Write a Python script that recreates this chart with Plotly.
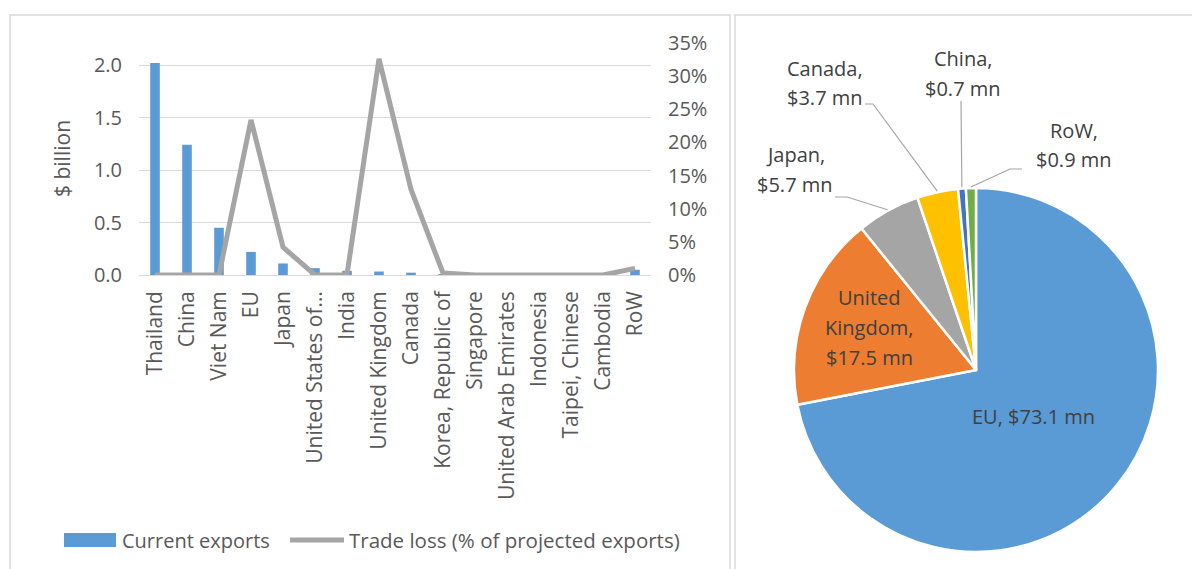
import math
import plotly.graph_objects as go

# ---------------- data ----------------
categories = ["Thailand", "China", "Viet Nam", "EU", "Japan", "United States of America",
              "India", "United Kingdom", "Canada", "Korea, Republic of", "Singapore",
              "United Arab Emirates", "Indonesia", "Taipei, Chinese", "Cambodia", "RoW"]
tick_labels = ["Thailand", "China", "Viet Nam", "EU", "Japan", "United States of…",
               "India", "United Kingdom", "Canada", "Korea, Republic of", "Singapore",
               "United Arab Emirates", "Indonesia", "Taipei, Chinese", "Cambodia", "RoW"]
current_exports = [2.02, 1.24, 0.45, 0.22, 0.11, 0.065, 0.04, 0.033, 0.022, 0.006,
                   0.003, 0.002, 0.002, 0.002, 0.001, 0.05]
trade_loss = [0.0, 0.0, 0.0, 0.234, 0.042, 0.0, 0.0005, 0.326, 0.129, 0.003,
              0.0, 0.0, 0.0, 0.001, 0.0, 0.010]
bar_name = "Current exports"
line_name = "Trade loss (% of projected exports)"

pie_labels = ["EU", "United Kingdom", "Japan", "Canada", "China", "RoW"]
pie_values = [73.1, 17.5, 5.7, 3.7, 0.7, 0.9]
pie_colors = ["#5B9BD5", "#ED7D31", "#A5A5A5", "#FFC000", "#4472C4", "#70AD47"]

# ---------------- geometry helpers ----------------
W, H = 1192, 569
def px(x):
    return x / W
def py(y):
    return 1 - y / H

FONT = "Open Sans"
TXT = "#595959"
PIE_TXT = "#404040"
GRID = "#D9D9D9"

fig = go.Figure()

fig.add_trace(go.Bar(x=categories, y=current_exports, name=bar_name,
                     marker=dict(color="#5B9BD5", line=dict(width=0)),
                     width=0.3, yaxis="y", xaxis="x", showlegend=False))
fig.add_trace(go.Scatter(x=categories, y=trade_loss, name=line_name, mode="lines",
                         line=dict(color="#A5A5A5", width=5), yaxis="y2", xaxis="x",
                         showlegend=False))

# pie
pcx, pcy, pr = 976, 370, 182
fig.add_trace(go.Pie(labels=pie_labels, values=pie_values, sort=False,
                     direction="clockwise", rotation=0,
                     marker=dict(colors=pie_colors, line=dict(color="white", width=2.5)),
                     textinfo="none", hoverinfo="label+value", showlegend=False,
                     domain=dict(x=[px(pcx - pr), px(pcx + pr)], y=[py(pcy + pr), py(pcy - pr)])))

# ---------------- layout ----------------
plot_l, plot_r, plot_t, plot_b = 139, 651, 43, 275
left_max = 2.0 * (plot_b - plot_t) / (plot_b - 65)

fig.update_layout(
    width=W, height=H,
    margin=dict(l=0, r=0, t=0, b=0),
    paper_bgcolor="white", plot_bgcolor="white",
    font=dict(family=FONT, color=TXT, size=20),
    xaxis=dict(domain=[px(plot_l), px(plot_r)], anchor="y",
               tickmode="array", tickvals=categories, ticktext=tick_labels,
               tickangle=-90, tickfont=dict(size=21, color=TXT, family=FONT),
               showgrid=False, showline=False, ticks="", automargin=False,
               ticklabelstandoff=11),
    yaxis=dict(domain=[py(plot_b), py(plot_t)], range=[0, left_max],
               tickvals=[0, 0.5, 1.0, 1.5, 2.0], tickformat=".1f",
               showgrid=True, gridcolor=GRID, gridwidth=1, zeroline=True,
               zerolinecolor=GRID, zerolinewidth=1, showline=False, ticks="",
               tickfont=dict(size=20, color=TXT), ticklabelstandoff=16, automargin=False),
    yaxis2=dict(overlaying="y", side="right", anchor="x", range=[0, 0.35],
                tickvals=[0, 0.05, 0.10, 0.15, 0.20, 0.25, 0.30, 0.35], tickformat=".0%",
                showgrid=False, zeroline=False, showline=False, ticks="",
                tickfont=dict(size=20, color=TXT), ticklabelstandoff=16, automargin=False),
    bargap=0.7,
)

shapes = []
annotations = []

# panel borders
shapes.append(dict(type="rect", xref="paper", yref="paper", x0=px(10), x1=px(730),
                   y0=py(575), y1=py(15), line=dict(color=GRID, width=1.5), layer="below"))
shapes.append(dict(type="rect", xref="paper", yref="paper", x0=px(735), x1=px(1200),
                   y0=py(575), y1=py(15), line=dict(color=GRID, width=1.5), layer="below"))

# y-axis title
annotations.append(dict(text="$ billion", x=px(62), y=py(159), xref="paper", yref="paper",
                        showarrow=False, textangle=-90, font=dict(size=21, color=TXT),
                        xanchor="center", yanchor="middle"))

# custom legend
leg_y = 540
shapes.append(dict(type="rect", xref="paper", yref="paper", x0=px(64), x1=px(116),
                   y0=py(leg_y + 7), y1=py(leg_y - 7), fillcolor="#5B9BD5", line=dict(width=0)))
annotations.append(dict(text=bar_name, x=px(120), y=py(leg_y), xref="paper", yref="paper",
                        showarrow=False, xanchor="left", yanchor="middle",
                        font=dict(size=20, color=TXT)))
shapes.append(dict(type="line", xref="paper", yref="paper", x0=px(290), x1=px(344),
                   y0=py(leg_y), y1=py(leg_y), line=dict(color="#A5A5A5", width=5)))
annotations.append(dict(text=line_name, x=px(347), y=py(leg_y), xref="paper", yref="paper",
                        showarrow=False, xanchor="left", yanchor="middle",
                        font=dict(size=20.5, color=TXT)))

# pie labels
total = sum(pie_values)
mids = {}
cum = 0.0
for lab, v in zip(pie_labels, pie_values):
    ang = (cum + v / 2) / total * 2 * math.pi
    mids[lab] = (pcx + (pr + 1) * math.sin(ang), pcy - (pr + 1) * math.cos(ang))
    cum += v

val = dict(zip(pie_labels, pie_values))

# (center x, y of first line)
label_pos = {
    "EU": (1033, 416),
    "United Kingdom": (869, 297),
    "Japan": (795, 154),
    "Canada": (825, 68),
    "China": (963, 58),
    "RoW": (1074, 130),
}
line_gap = 30
leaders = {
    "Canada": [(865, 104), (873, 104)],
    "China": [(961, 101)],
    "Japan": [(835, 197), (847, 197)],
    "RoW": [(1022, 169), (1010, 169)],
}

for lab in pie_labels:
    x, y = label_pos[lab]
    money = f"${val[lab]} mn"
    if lab == "EU":
        lines = [f"{lab}, {money}"]
    elif lab == "United Kingdom":
        w = lab.split(" ")
        lines = [w[0], w[1] + ",", money]
    else:
        lines = [lab + ",", money]
    for i, t in enumerate(lines):
        annotations.append(dict(text=t, x=px(x), y=py(y + i * line_gap), xref="paper", yref="paper",
                                showarrow=False, xanchor="center", yanchor="middle",
                                align="center", font=dict(size=20, color=PIE_TXT, family=FONT)))

for lab, pts in leaders.items():
    pts = pts + [mids[lab]]
    path = "M " + " L ".join(f"{px(a):.5f},{py(b):.5f}" for a, b in pts)
    shapes.append(dict(type="path", xref="paper", yref="paper", path=path,
                       line=dict(color="#A6A6A6", width=1.2)))

fig.update_layout(shapes=shapes, annotations=annotations)

fig.write_html("out.html", config={"displayModeBar": False},
               post_script="document.body.style.margin='0';")
